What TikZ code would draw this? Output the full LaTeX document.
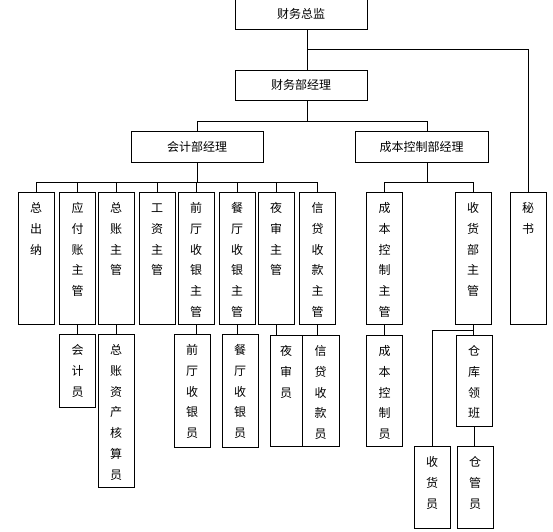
\documentclass[tikz,border=0pt]{standalone}
\usepackage{fontspec}
\newfontfamily\cjk{Noto Sans CJK SC}
\newcommand{\vtxt}[2]{\parbox[c][#1][t]{30pt}{\centering\rule{0pt}{20pt}#2}}

\begin{document}
\begin{tikzpicture}[x=1pt, y=-1pt, line width=1pt,
    hbox/.style={draw, font=\cjk\fontsize{12}{14}\selectfont, minimum width=132pt, minimum height=30pt, inner sep=0pt},
    vcol/.style={draw, font=\cjk\fontsize{12}{20.8}\selectfont, minimum width=36pt, inner sep=0pt, anchor=north}]
    \useasboundingbox (0,0) rectangle (553,531);

    % Top managers
    \node[hbox] (cwzj) at (301,14) {财务总监};
    \node[hbox] (cwjl) at (301,85) {财务部经理};
    \node[hbox, minimum height=31pt] (kjjl) at (197,146.5) {会计部经理};
    \node[hbox, minimum height=31pt, minimum width=133pt] (cbjl) at (421.5,146.5) {成本控制部经理};

    % Supervisors
    \node[vcol] (zcn) at (36,192) {\vtxt{132pt}{总\\出\\纳}};
    \node[vcol] (yfz) at (77.5,192) {\vtxt{132pt}{应\\付\\账\\主\\管}};
    \node[vcol] (zzz) at (116,192) {\vtxt{132pt}{总\\账\\主\\管}};
    \node[vcol] (gzz) at (157,192) {\vtxt{132pt}{工\\资\\主\\管}};
    \node[vcol] (qtz) at (196,192) {\vtxt{132pt}{前\\厅\\收\\银\\主\\管}};
    \node[vcol] (ctz) at (237,192) {\vtxt{132pt}{餐\\厅\\收\\银\\主\\管}};
    \node[vcol] (ysz) at (276,192) {\vtxt{132pt}{夜\\审\\主\\管}};
    \node[vcol] (xdz) at (317.5,192) {\vtxt{132pt}{信\\贷\\收\\款\\主\\管}};
    \node[vcol] (cbz) at (384.5,192) {\vtxt{132pt}{成\\本\\控\\制\\主\\管}};
    \node[vcol] (shz) at (473,192) {\vtxt{132pt}{收\\货\\部\\主\\管}};
    \node[vcol] (ms) at (528,192) {\vtxt{132pt}{秘\\书}};

    % Staff
    \node[vcol] (kjy) at (77.5,334) {\vtxt{73pt}{会\\计\\员}};
    \node[vcol] (zzy) at (116,334) {\vtxt{153pt}{总\\账\\资\\产\\核\\算\\员}};
    \node[vcol] (qty) at (192,334) {\vtxt{113pt}{前\\厅\\收\\银\\员}};
    \node[vcol] (cty) at (240,334) {\vtxt{113pt}{餐\\厅\\收\\银\\员}};
    \node[vcol, minimum width=32pt] (ysy) at (286,335) {\vtxt{111pt}{夜\\审\\员}};
    \node[vcol, minimum width=37pt] (xdy) at (320.5,335) {\vtxt{111pt}{信\\贷\\收\\款\\员}};
    \node[vcol] (cby) at (384.5,335) {\vtxt{111pt}{成\\本\\控\\制\\员}};
    \node[vcol] (ckb) at (474,335) {\vtxt{91pt}{仓\\库\\领\\班}};
    \node[vcol] (shy) at (432,446) {\vtxt{82pt}{收\\货\\员}};
    \node[vcol] (cgy) at (475,446) {\vtxt{82pt}{仓\\管\\员}};

    % Trunk lines
    \coordinate (fork1) at (307,49);
    \coordinate (bus1) at (307,121);
    \draw ([xshift=6pt]cwzj.south) -- ([xshift=6pt]cwjl.north);
    \draw (fork1) -| (ms.north);
    \draw ([xshift=6pt]cwjl.south) -- (bus1);
    \draw (kjjl.north) |- (bus1);
    \draw ([xshift=6pt]cbjl.north) |- (bus1);

    % Accounting bus
    \coordinate (bus2) at (197,182);
    \draw (kjjl.south) -- (bus2);
    \foreach \n in {zcn,yfz,zzz,gzz,qtz,ctz,ysz,xdz}
        \draw (\n.north) |- (bus2);

    % Cost control bus
    \coordinate (bus3) at (427,182);
    \draw ([xshift=5.5pt]cbjl.south) -- (bus3);
    \draw (cbz.north) |- (bus3);
    \draw (shz.north) |- (bus3);

    % Supervisor to staff
    \foreach \a/\b in {yfz/kjy, zzz/zzy, qtz/qty, ctz/cty, ysz/ysy, xdz/xdy, cbz/cby, shz/ckb, ckb/cgy}
        \draw (\a.south) -- (\a.south |- \b.north);
    \coordinate (fork2) at (473,330);
    \draw (shy.north) |- (fork2);

\end{tikzpicture}
\end{document}
